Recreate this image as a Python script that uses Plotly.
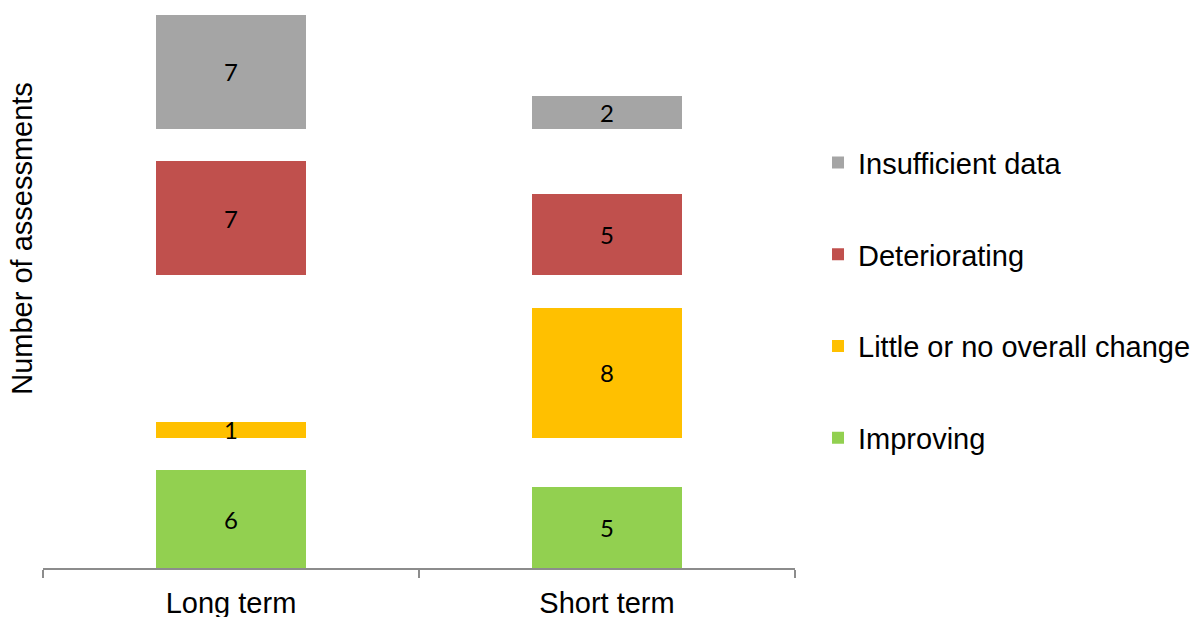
import plotly.graph_objects as go

categories = ["Long term", "Short term"]
improving = [6, 5]
little_change = [1, 8]
deteriorating = [7, 5]
insufficient = [7, 2]
# invisible spacer segments between the visible bands
spacer_a = [2, 3]
spacer_b = [9, 2]
spacer_c = [2, 4]

series = [
    ("Improving", improving, "#92D050", True, 4),
    ("spacer_a", spacer_a, "rgba(0,0,0,0)", False, 10),
    ("Little or no overall change", little_change, "#FFC000", True, 3),
    ("spacer_b", spacer_b, "rgba(0,0,0,0)", False, 10),
    ("Deteriorating", deteriorating, "#C0504D", True, 2),
    ("spacer_c", spacer_c, "rgba(0,0,0,0)", False, 10),
    ("Insufficient data", insufficient, "#A5A5A5", True, 1),
]

fig = go.Figure()
for name, vals, color, visible, rank in series:
    fig.add_trace(go.Bar(
        x=categories, y=vals, name=name,
        marker=dict(color=color, line=dict(width=0)),
        text=[str(v) for v in vals] if visible else None,
        textposition="inside" if visible else "none",
        insidetextanchor="middle",
        constraintext="none",
        textangle=0,
        textfont=dict(family="Lato", size=24, color="black"),
        showlegend=visible,
        legendgroup=name,
        legendrank=rank,
        hoverinfo="skip" if not visible else None,
    ))

fig.update_layout(
    barmode="stack",
    bargap=0.6,
    width=1192, height=617,
    margin=dict(l=43, r=397, t=15, b=49, autoexpand=False),
    paper_bgcolor="white", plot_bgcolor="white",
    font=dict(family="Liberation Sans", color="black"),
    xaxis=dict(
        showline=True, linecolor="#8C8C8C", linewidth=1.5,
        ticks="outside", tickson="boundaries", ticklen=8, tickcolor="#8C8C8C", tickwidth=1.5,
        tickfont=dict(size=29, family="Liberation Sans", color="black"),
        ticklabelstandoff=8,
        automargin=False,
        showgrid=False, zeroline=False,
    ),
    yaxis=dict(range=[0, 34], visible=False, showgrid=False, zeroline=False),
    legend=dict(
        x=1.0306, y=0.779, xanchor="left", yanchor="top",
        traceorder="grouped", tracegroupgap=51,
        font=dict(size=29, family="Liberation Sans", color="black"),
        itemwidth=30,
    ),
    annotations=[dict(
        text="Number of assessments", textangle=-90,
        xref="paper", yref="paper", x=-0.028, y=0.597,
        xanchor="center", yanchor="middle",
        showarrow=False, font=dict(size=29, family="Liberation Sans", color="black"),
    )],
)

fig.write_html("out.html")
